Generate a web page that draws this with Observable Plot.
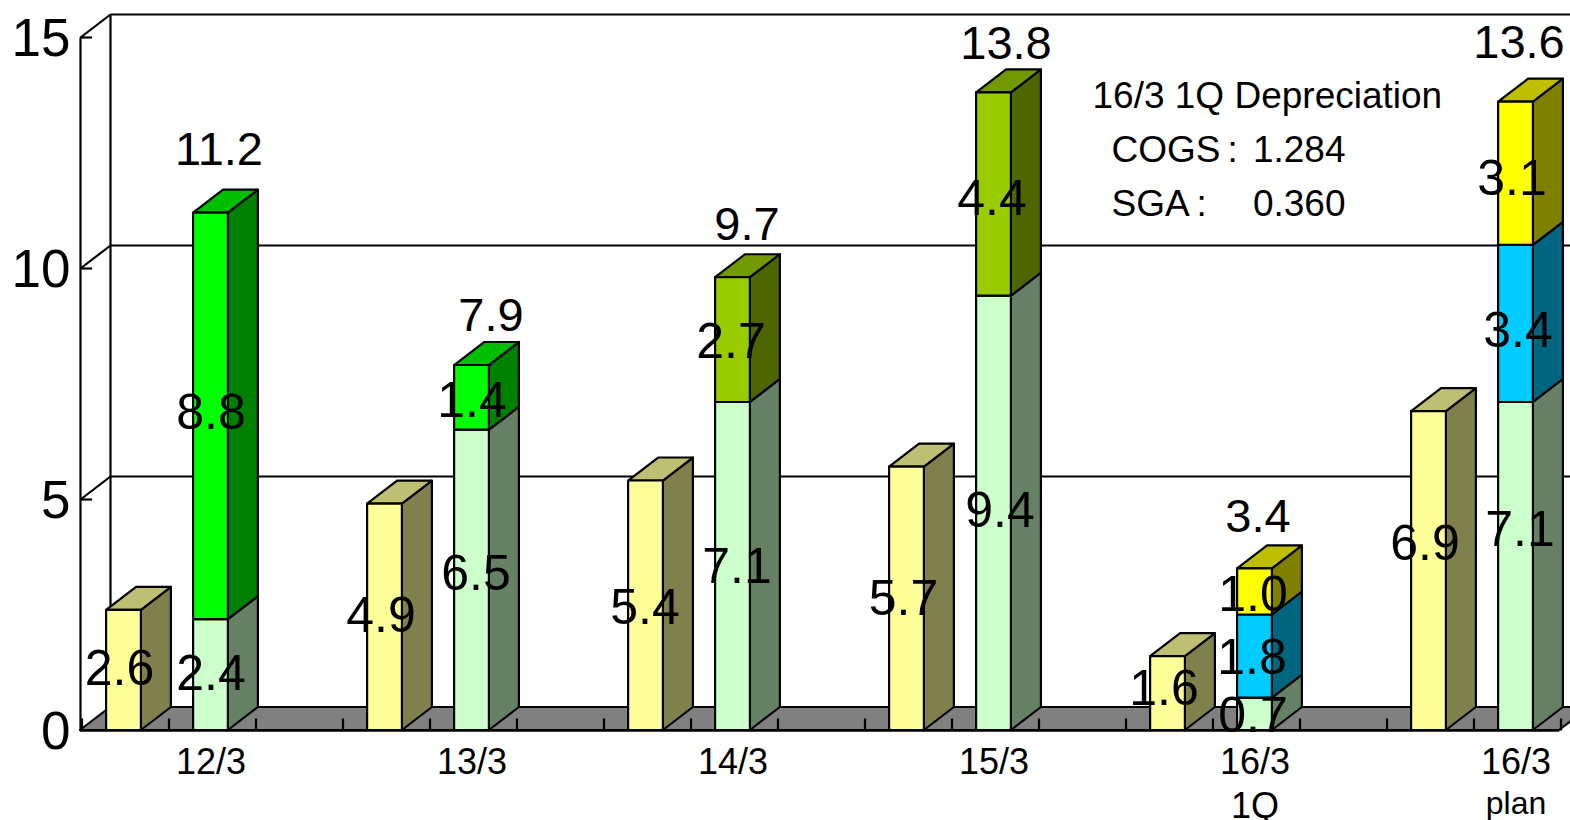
<!DOCTYPE html>
<html>
<head>
<meta charset="utf-8">
<script src="https://cdn.jsdelivr.net/npm/d3@7"></script>
<script src="https://cdn.jsdelivr.net/npm/@observablehq/plot@0.6"></script>
<style>
  html, body { margin: 0; padding: 0; background: #fff; overflow: hidden; }
  svg { display: block; }
</style>
</head>
<body>
<div id="chart"></div>
<script>
// Period labels
const periods = ["12/3", "13/3", "14/3", "15/3", "16/3", "16/3"];
const periodNotes = ["", "", "", "", "1Q", "plan"];

// Series values per period (0 = series absent in that period)
const sales = [2.6, 4.9, 5.4, 5.7, 1.6, 6.9];
const baseCost = [2.4, 6.5, 7.1, 9.4, 0.7, 7.1];
const greenCost = [8.8, 1.4, 0, 0, 0, 0];
const limeCost = [0, 0, 2.7, 4.4, 0, 0];
const cyanCost = [0, 0, 0, 0, 1.8, 3.4];
const yellowCost = [0, 0, 0, 0, 1.0, 3.1];
const totals = [11.2, 7.9, 9.7, 13.8, 3.4, 13.6];

const yTicks = [0, 5, 10, 15];
const slotTicks = d3.range(0, 18);

// Front face colours; side and top faces are darker shades of these
const salesColor = "#ffff99";
const baseColor = "#ccffcc";
const greenColor = "#00ff00";
const limeColor = "#99cc00";
const cyanColor = "#00ccff";
const yellowColor = "#ffff00";

// Frame geometry
const W = 1570, H = 820;
const frameLeft = 80, frameRight = 1559, frameTop = 37, frameBottom = 730;
const slots = 17;
const unitX = (frameRight - frameLeft) / slots;
const unitY = (frameBottom - frameTop) / 15;

// Box depth expressed in data units of each scale
const depthX = 30 / unitX;
const depthY = 23 / unitY;
const halfBar = 0.2;
const nudgeX = (px) => px / unitX;
const nudgeY = (px) => -px / unitY;

// Label offsets in pixels from the middle of each segment
const salesNudge = [[-4.5, -3], [-4, -3], [-1, 0], [-3.5, -2], [-4, -7], [-4, -29]];
const baseNudge = [[0, -3], [4, -8], [4, -1], [6, -4], [-2, 0], [4, -38]];
const greenNudge = [[0, -5], [0, 1]];
const limeNudge = [null, null, [-2, 0], [-2, 2]];
const cyanNudge = [null, null, null, null, [-3, -1], [2, 5]];
const yellowNudge = [null, null, null, null, [-2, 1], [-4, 3]];
const totalNudge = [[8, -64.6], [19, -51], [14, -58], [12, -50], [3, -57], [3, -60]];

// A quadrilateral expressed as two area rows: a→b on the first edge, d→c on the second
const quad = (id, fill, a, b, c, d) => [
  {id, fill, x1: a[0], y1: a[1], x2: d[0], y2: d[1]},
  {id, fill, x1: b[0], y1: b[1], x2: c[0], y2: c[1]}
];

const shade = (color, k) => {
  const c = d3.rgb(color);
  return d3.rgb(c.r * k, c.g * k, c.b * k).formatHex();
};

// The three visible faces of one box segment
function boxFaces(id, color, x, y0, y1, withTop) {
  const xa = x - halfBar, xb = x + halfBar;
  const faces = [
    ...quad(id + "-side", shade(color, 0.5),
      [xb, y0], [xb + depthX, y0 + depthY], [xb + depthX, y1 + depthY], [xb, y1])
  ];
  if (withTop) {
    faces.push(...quad(id + "-top", shade(color, 0.75),
      [xa, y1], [xa + depthX, y1 + depthY], [xb + depthX, y1 + depthY], [xb, y1]));
  }
  faces.push(...quad(id + "-front", color, [xa, y0], [xa, y1], [xb, y1], [xb, y0]));
  return faces;
}

const faces = [];
const labels = [];

periods.forEach((_, i) => {
  const xSales = 3 * i + 0.5;
  const xStack = 3 * i + 1 + 0.5;

  faces.push(...boxFaces(`s${i}`, salesColor, xSales, 0, sales[i], true));
  labels.push({
    x: xSales + nudgeX(salesNudge[i][0]),
    y: sales[i] / 2 + nudgeY(salesNudge[i][1]),
    text: sales[i].toFixed(1)
  });

  const layers = [
    [baseCost, baseColor, baseNudge],
    [greenCost, greenColor, greenNudge],
    [limeCost, limeColor, limeNudge],
    [cyanCost, cyanColor, cyanNudge],
    [yellowCost, yellowColor, yellowNudge]
  ].filter(([values]) => values[i] > 0);

  let y0 = 0;
  layers.forEach(([values, color, nudge], k) => {
    const y1 = y0 + values[i];
    faces.push(...boxFaces(`c${i}-${k}`, color, xStack, y0, y1, k === layers.length - 1));
    labels.push({
      x: xStack + nudgeX(nudge[i][0]),
      y: (y0 + y1) / 2 + nudgeY(nudge[i][1]),
      text: values[i].toFixed(1)
    });
    y0 = y1;
  });
});

const totalLabels = totals.map((v, i) => ({
  x: 3 * i + 1.5 + nudgeX(totalNudge[i][0]),
  y: v + nudgeY(totalNudge[i][1]),
  text: v.toFixed(1)
}));

// Floor of the chart box
const floorEnd = slots;
const floor = quad("floor", "#808080",
  [0, 0], [depthX, depthY], [floorEnd + depthX, depthY], [floorEnd, 0]);

// Depreciation note, placed relative to the plot frame
const noteRows = [
  {text: "16/3 1Q Depreciation", px: 1092, py: 96, anchor: "start"},
  {text: "COGS", px: 1111, py: 150, anchor: "start"},
  {text: ":", px: 1227, py: 150, anchor: "start"},
  {text: "1.284", px: 1345, py: 150, anchor: "end"},
  {text: "SGA", px: 1111, py: 204, anchor: "start"},
  {text: ":", px: 1196, py: 204, anchor: "start"},
  {text: "0.360", px: 1345, py: 204, anchor: "end"}
];

const edge = {stroke: "black", strokeWidth: 2.2};

const chart = Plot.plot({
  width: W,
  height: H,
  marginLeft: frameLeft,
  marginRight: W - frameRight,
  marginTop: frameTop,
  marginBottom: H - frameBottom,
  style: {fontFamily: "'Liberation Sans', Arial, sans-serif", background: "white", color: "black"},
  x: {domain: [0, slots], axis: null},
  y: {domain: [0, 15], axis: null},
  color: {type: "identity"},
  marks: [
    // Back wall grid lines and frame
    Plot.link(yTicks.slice(1), {
      x1: depthX, x2: slots + 2, y1: (d) => d + depthY, y2: (d) => d + depthY, ...edge
    }),
    Plot.link([0], {x1: depthX, x2: depthX, y1: depthY, y2: 15 + depthY, ...edge}),
    // Left wall
    Plot.link([0], {x1: 0, x2: 0, y1: 0, y2: 15, ...edge}),
    Plot.link(yTicks, {x1: 0, x2: depthX, y1: (d) => d, y2: (d) => d + depthY, ...edge}),
    Plot.ruleY(yTicks.slice(1), {x1: 0, x2: 12 / unitX, ...edge}),
    // Floor with its slot ticks
    Plot.area(floor, {x1: "x1", y1: "y1", x2: "x2", y2: "y2", z: "id", fill: "fill", ...edge}),
    Plot.link(slotTicks, {x1: (d) => d, x2: (d) => d, y1: 0, y2: 12 / unitY, dx: 1.5, ...edge}),
    Plot.ruleY([0], {x1: 0, x2: floorEnd, stroke: "black", strokeWidth: 2.5}),
    // Bars
    Plot.area(faces, {x1: "x1", y1: "y1", x2: "x2", y2: "y2", z: "id", fill: "fill", ...edge}),
    // Value labels
    Plot.text(labels, {x: "x", y: "y", text: "text", dy: 2, fontSize: 50, fill: "black"}),
    Plot.text(totalLabels, {x: "x", y: "y", text: "text", dy: 1, fontSize: 47, fill: "black"}),
    // Value axis labels
    Plot.text(yTicks, {x: 0, y: (d) => d, text: (d) => String(d), dx: -10, dy: 2, textAnchor: "end", fontSize: 53, fill: "black"}),
    // Period labels
    Plot.text(periods, {
      x: (_, i) => 3 * i + 1.5, y: 0, text: (d) => d, dy: 32, fontSize: 36, fill: "black"
    }),
    Plot.text(periodNotes.map((t, i) => ({t, i})).filter((d) => d.t === "1Q"), {
      x: (d) => 3 * d.i + 1.5, y: 0, text: "t", dy: 76, fontSize: 36, fill: "black"
    }),
    Plot.text(periodNotes.map((t, i) => ({t, i})).filter((d) => d.t === "plan"), {
      x: (d) => 3 * d.i + 1.5, y: 0, text: "t", dy: 73, fontSize: 32, fill: "black"
    }),
    // Depreciation note
    ...noteRows.map((r) => Plot.text([r.text], {
      text: (d) => d,
      frameAnchor: "top-left",
      lineAnchor: "middle",
      textAnchor: r.anchor,
      dx: r.px - frameLeft,
      dy: r.py - frameTop,
      fontSize: 37,
      fill: "black"
    }))
  ]
});

document.getElementById("chart").appendChild(chart);
</script>
</body>
</html>
